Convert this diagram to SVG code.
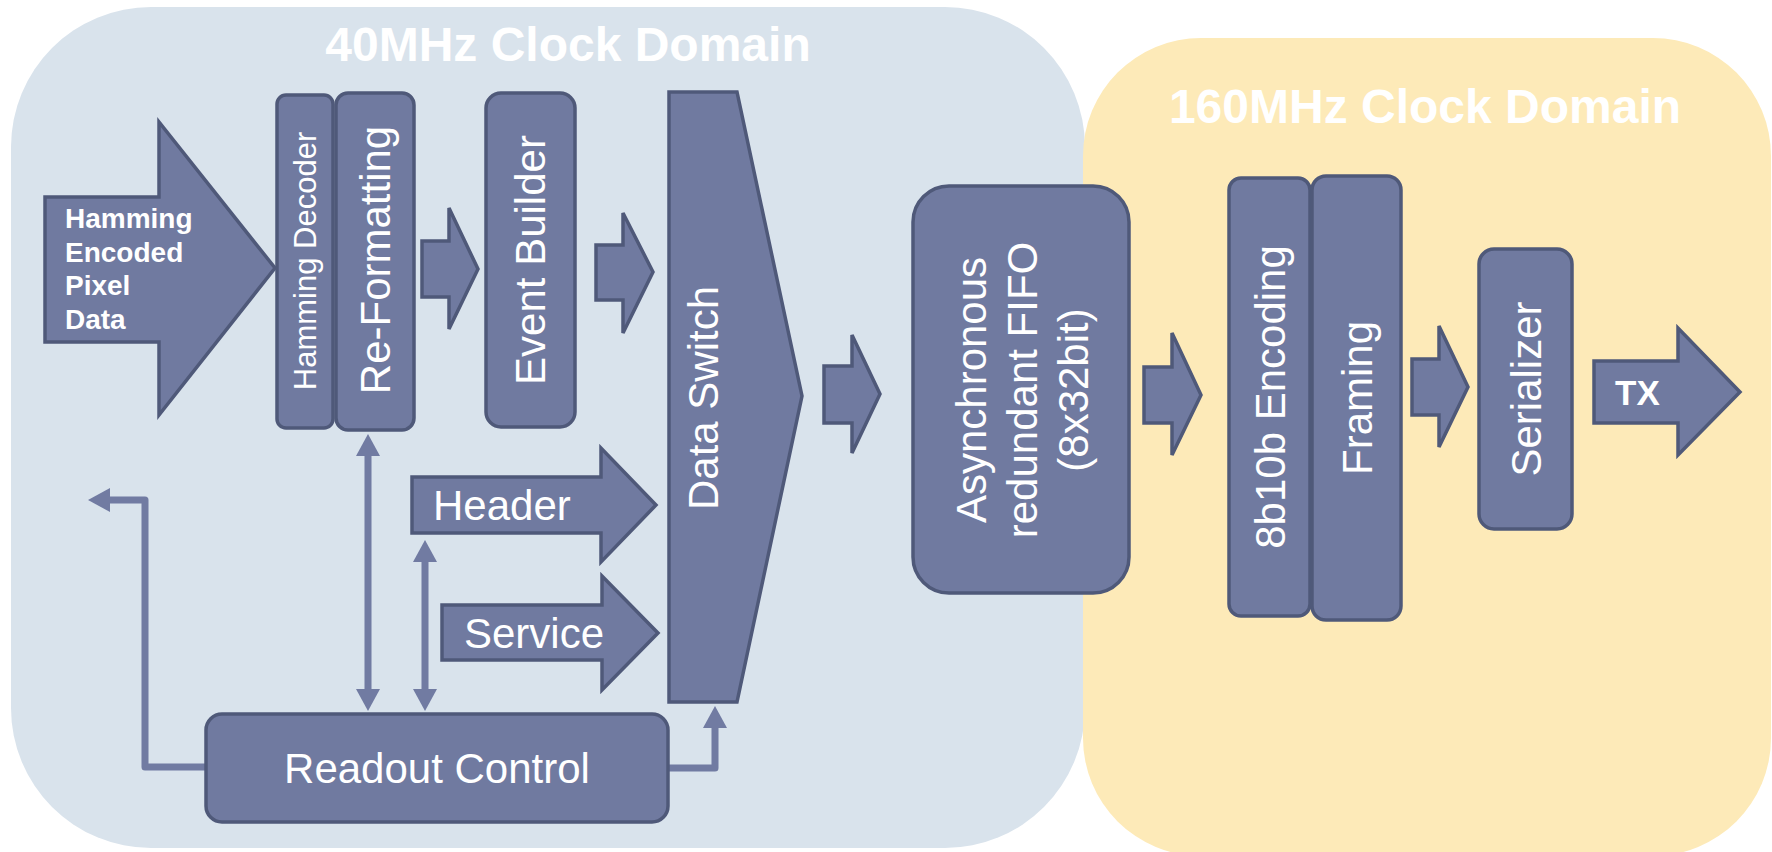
<svg xmlns="http://www.w3.org/2000/svg" width="1772" height="852" viewBox="0 0 1772 852">
  <defs>
    <style>
      .node { fill: #707AA0; stroke: #4F5979; stroke-width: 3.5; stroke-linejoin: miter; }
      .lbl { fill: #FFFFFF; font-family: "Liberation Sans", Arial, Helvetica, sans-serif; font-size: 42px; }
      .bold { font-weight: bold; }
      .title { fill: #FFFFFF; font-family: "Liberation Sans", Arial, Helvetica, sans-serif; font-size: 48px; font-weight: bold; text-anchor: middle; }
      .conn { fill: none; stroke: #717BA2; stroke-width: 7; stroke-linejoin: round; }
    </style>
    <marker id="head" viewBox="0 0 22 24" refX="1" refY="12" markerWidth="22" markerHeight="24" markerUnits="userSpaceOnUse" orient="auto-start-reverse">
      <path d="M0,0 L22,12 L0,24 Z" fill="#717BA2"/>
    </marker>
  </defs>

  <!-- clock domains -->
  <g id="domain-40mhz">
    <rect x="11" y="7" width="1074" height="841" rx="140" ry="140" fill="#D9E3EC"/>
    <text class="title" x="568" y="61">40MHz Clock Domain</text>
  </g>
  <g id="domain-160mhz">
    <rect x="1083" y="38" width="688" height="818" rx="118" ry="118" fill="#FDEAB8"/>
    <text class="title" x="1425" y="123">160MHz Clock Domain</text>
  </g>

  <!-- control connectors -->
  <g id="connectors">
    <path class="conn" d="M368,455 V690" marker-start="url(#head)" marker-end="url(#head)"/>
    <path class="conn" d="M425,561 V690" marker-start="url(#head)" marker-end="url(#head)"/>
    <path class="conn" d="M206,767 H145 V500 H109" marker-end="url(#head)"/>
    <path class="conn" d="M668,768 H715 V727" marker-end="url(#head)"/>
  </g>

  <!-- input data -->
  <g id="input-data">
    <polygon class="node" points="45,197 159,197 159,122 275,268 159,415 159,342 45,342"/>
    <text class="lbl bold" x="65" y="228" style="font-size:28px">Hamming</text>
    <text class="lbl bold" x="65" y="262" style="font-size:28px">Encoded</text>
    <text class="lbl bold" x="65" y="295" style="font-size:28px">Pixel</text>
    <text class="lbl bold" x="65" y="329" style="font-size:28px">Data</text>
  </g>

  <g id="hamming-decoder">
    <rect class="node" x="277" y="95" width="56" height="333" rx="9"/>
    <text class="lbl" style="font-size:31px" text-anchor="middle" transform="translate(316,261) rotate(-90)">Hamming Decoder</text>
  </g>

  <g id="re-formatting">
    <rect class="node" x="336" y="93" width="78" height="337" rx="12"/>
    <text class="lbl" text-anchor="middle" transform="translate(390,260) rotate(-90)">Re-Formatting</text>
  </g>

  <g id="arrow-rf-eb">
    <polygon class="node" points="422,241 449,241 449,208 478,269 449,329 449,297 422,297"/>
  </g>

  <g id="event-builder">
    <rect class="node" x="486" y="93" width="89" height="334" rx="15"/>
    <text class="lbl" text-anchor="middle" transform="translate(545,260) rotate(-90)">Event Builder</text>
  </g>

  <g id="arrow-eb-ds">
    <polygon class="node" points="596,245 623,245 623,213 653,272 623,333 623,300 596,300"/>
  </g>

  <g id="header">
    <polygon class="node" points="412,477 601,477 601,448 656,505 601,562 601,533 412,533"/>
    <text class="lbl" x="433" y="520">Header</text>
  </g>

  <g id="service">
    <polygon class="node" points="442,605 602,605 602,576 658,633 602,690 602,660 442,660"/>
    <text class="lbl" x="464" y="648">Service</text>
  </g>

  <g id="data-switch">
    <polygon class="node" points="669,92 737,92 802,396 737,702 669,702"/>
    <text class="lbl" text-anchor="middle" transform="translate(718,398) rotate(-90)">Data Switch</text>
  </g>

  <g id="readout-control">
    <rect class="node" x="206" y="714" width="462" height="108" rx="16"/>
    <text class="lbl" text-anchor="middle" x="437" y="783">Readout Control</text>
  </g>

  <g id="arrow-ds-fifo">
    <polygon class="node" points="824,366 852,366 852,335 880,394 852,453 852,423 824,423"/>
  </g>

  <g id="fifo">
    <rect class="node" x="913" y="186" width="216" height="407" rx="36"/>
    <text class="lbl" text-anchor="middle" transform="translate(986,390) rotate(-90)">Asynchronous</text>
    <text class="lbl" text-anchor="middle" transform="translate(1037,390) rotate(-90)">redundant FIFO</text>
    <text class="lbl" text-anchor="middle" transform="translate(1088,390) rotate(-90)">(8x32bit)</text>
  </g>

  <g id="arrow-fifo-enc">
    <polygon class="node" points="1144,367 1172,367 1172,333 1201,395 1172,455 1172,423 1144,423"/>
  </g>

  <g id="encoding-8b10b">
    <rect class="node" x="1229" y="178" width="81" height="438" rx="12"/>
    <text class="lbl" text-anchor="middle" transform="translate(1285,397) rotate(-90)">8b10b Encoding</text>
  </g>

  <g id="framing">
    <rect class="node" x="1312" y="176" width="89" height="444" rx="14"/>
    <text class="lbl" text-anchor="middle" transform="translate(1372,398) rotate(-90)">Framing</text>
  </g>

  <g id="arrow-fr-ser">
    <polygon class="node" points="1412,359 1439,359 1439,326 1468,387 1439,447 1439,415 1412,415"/>
  </g>

  <g id="serializer">
    <rect class="node" x="1479" y="249" width="93" height="280" rx="15"/>
    <text class="lbl" text-anchor="middle" transform="translate(1541,389) rotate(-90)">Serializer</text>
  </g>

  <g id="tx">
    <polygon class="node" points="1594,361 1678,361 1678,328 1740,392 1678,455 1678,423 1594,423"/>
    <text class="lbl bold" x="1615" y="405" style="font-size:35px">TX</text>
  </g>
</svg>
